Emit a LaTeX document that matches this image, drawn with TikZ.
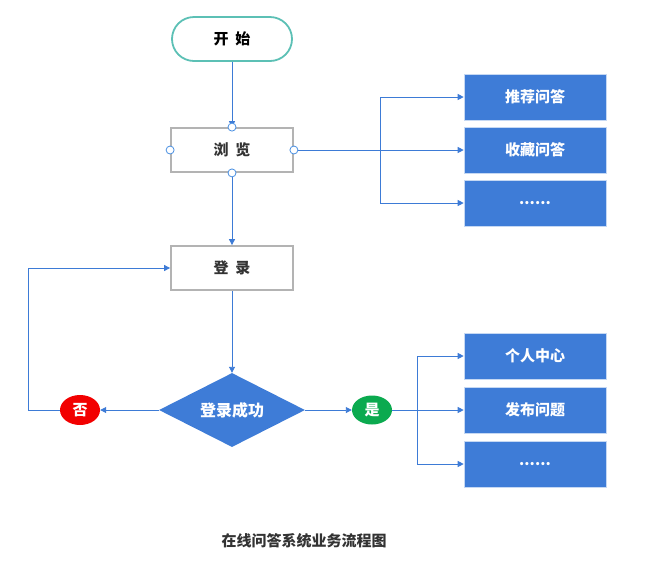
\documentclass[tikz,border=0pt]{standalone}
\usepackage{fontspec}
\setmainfont{Noto Sans CJK SC}
\usetikzlibrary{shapes.geometric,arrows.meta}
\definecolor{lineblue}{HTML}{3D7BD6}
\definecolor{boxblue}{HTML}{3E7CD7}
\definecolor{teal}{HTML}{5CC0B5}
\definecolor{graybd}{HTML}{B3B3B3}
\definecolor{txt}{HTML}{333333}
\definecolor{nored}{HTML}{F20000}
\definecolor{yesgreen}{HTML}{0BAA4F}
\definecolor{portblue}{HTML}{4A90E2}
\tikzset{
  x=1pt,y=-1pt,
  conn/.style={draw=lineblue,line width=0.9pt,-{Triangle[length=6pt,width=6pt]}},
  plain/.style={draw=lineblue,line width=0.9pt},
  graybox/.style={draw=graybd,line width=1.8pt,fill=white,minimum width=122pt,minimum height=44pt,inner sep=0pt,font=\bfseries\fontsize{15}{17}\selectfont,text=txt},
  bluebox/.style={draw=white!70!boxblue,line width=0.6pt,fill=boxblue,minimum width=142pt,minimum height=46pt,inner sep=0pt,font=\bfseries\fontsize{15}{17}\selectfont,text=white},
  port/.style={circle,draw=portblue,fill=white,line width=0.8pt,minimum size=8pt,inner sep=0pt},
}
\begin{document}
\begin{tikzpicture}
\useasboundingbox (0,0) rectangle (658,566);
% start
\node[draw=teal,line width=1.8pt,rounded corners=22pt,minimum width=120pt,minimum height=44pt,inner sep=0pt,font=\bfseries\fontsize{15}{17}\selectfont,text=black] (start) at (232,39) {开\hspace{0.45em}始};
% browse
\node[graybox] (browse) at (232,150) {浏\hspace{0.45em}览};
% login
\node[graybox] (login) at (232,268) {登\hspace{0.45em}录};
% right boxes top
\node[bluebox] (r1) at (535,97) {推荐问答};
\node[bluebox] (r2) at (535,150) {收藏问答};
\node[bluebox] (r3) at (535,203) {......};
% bottom boxes
\node[bluebox] (b1) at (535,356) {个人中心};
\node[bluebox] (b2) at (535,410) {发布问题};
\node[bluebox] (b3) at (535,464) {......};
% diamond
\node[diamond,aspect=2,fill=boxblue,minimum width=146pt,minimum height=74pt,inner sep=0pt,font=\bfseries\fontsize{16}{18}\selectfont,text=white] (dec) at (232,410) {登录成功};
% yes / no
\node[ellipse,fill=nored,minimum width=40pt,minimum height=30pt,inner sep=0pt,font=\bfseries\fontsize{15}{17}\selectfont,text=white] (no) at (80,410) {否};
\node[ellipse,fill=yesgreen,minimum width=40pt,minimum height=29pt,inner sep=0pt,font=\bfseries\fontsize{15}{17}\selectfont,text=white] (yes) at (372,410) {是};
% coordinates
\coordinate (bt) at (380,97);
\coordinate (bb) at (380,203);
\coordinate (yt) at (417,356);
\coordinate (yb) at (417,464);
\coordinate (lc) at (28,410);
\coordinate (lt) at (28,268);
% connectors
\draw[conn] (start.south) -- (browse.north);
\draw[conn] (browse.south) -- (login.north);
\draw[conn] (browse.east) -- (r2.west);
\draw[plain] (bt) -- (bb);
\draw[conn] (bt) -- (r1.west);
\draw[conn] (bb) -- (r3.west);
\draw[conn] (login.south) -- (dec.north);
\draw[conn] (dec.west) -- (no.east);
\draw[conn] (no.west) -- (lc) -- (lt) -- (login.west);
\draw[conn] (dec.east) -- (yes.west);
\draw[conn] (yes.east) -- (b2.west);
\draw[plain] (yt) -- (yb);
\draw[conn] (yt) -- (b1.west);
\draw[conn] (yb) -- (b3.west);
% ports
\node[port] (p1) at (browse.north) {};
\node[port] (p2) at (browse.west) {};
\node[port] (p3) at (browse.east) {};
\node[port] (p4) at (browse.south) {};
% caption
\node[font=\bfseries\fontsize{15}{17}\selectfont,text=txt] (cap) at (304,541) {在线问答系统业务流程图};
\end{tikzpicture}
\end{document}
